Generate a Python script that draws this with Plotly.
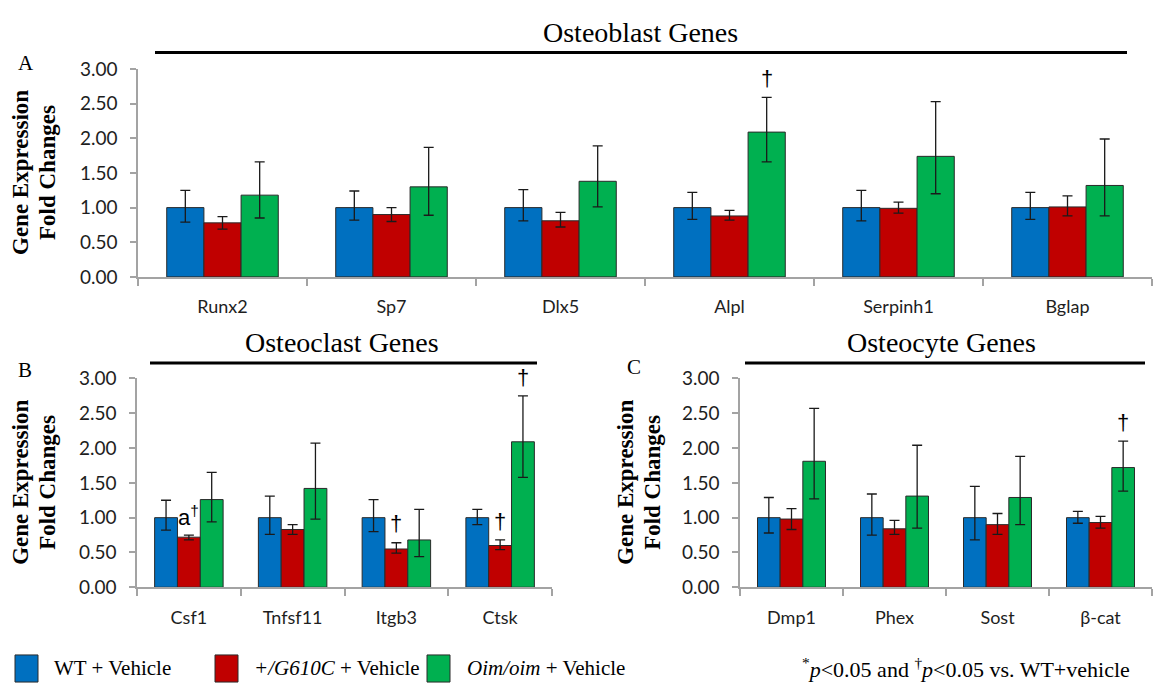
import plotly.graph_objects as go

W, H = 1154, 694

series_names = ["WT + Vehicle", "+/G610C + Vehicle", "Oim/oim + Vehicle"]
colors = ["#0070C0", "#C00000", "#00B050"]

# ---------------- Panel A : Osteoblast genes ----------------
cats_a = ["Runx2", "Sp7", "Dlx5", "Alpl", "Serpinh1", "Bglap"]
wt_a = [1.00, 1.00, 1.00, 1.00, 1.00, 1.00]
wt_a_hi = [1.25, 1.24, 1.26, 1.22, 1.25, 1.22]
wt_a_lo = [0.79, 0.82, 0.81, 0.83, 0.81, 0.83]
g610c_a = [0.78, 0.90, 0.81, 0.88, 0.99, 1.01]
g610c_a_hi = [0.87, 1.00, 0.93, 0.96, 1.08, 1.17]
g610c_a_lo = [0.69, 0.80, 0.72, 0.82, 0.92, 0.88]
oim_a = [1.18, 1.30, 1.38, 2.09, 1.74, 1.32]
oim_a_hi = [1.66, 1.87, 1.89, 2.59, 2.53, 1.99]
oim_a_lo = [0.85, 0.89, 1.01, 1.66, 1.20, 0.88]

# ---------------- Panel B : Osteoclast genes ----------------
cats_b = ["Csf1", "Tnfsf11", "Itgb3", "Ctsk"]
wt_b = [1.00, 1.00, 1.00, 1.00]
wt_b_hi = [1.25, 1.31, 1.26, 1.12]
wt_b_lo = [0.82, 0.76, 0.80, 0.90]
g610c_b = [0.72, 0.83, 0.55, 0.60]
g610c_b_hi = [0.75, 0.90, 0.64, 0.68]
g610c_b_lo = [0.68, 0.76, 0.49, 0.54]
oim_b = [1.26, 1.42, 0.68, 2.09]
oim_b_hi = [1.65, 2.07, 1.12, 2.75]
oim_b_lo = [0.94, 0.98, 0.44, 1.58]

# ---------------- Panel C : Osteocyte genes ----------------
cats_c = ["Dmp1", "Phex", "Sost", "β-cat"]
wt_c = [1.00, 1.00, 1.00, 1.00]
wt_c_hi = [1.29, 1.34, 1.45, 1.09]
wt_c_lo = [0.78, 0.75, 0.68, 0.92]
g610c_c = [0.98, 0.84, 0.90, 0.93]
g610c_c_hi = [1.13, 0.96, 1.06, 1.02]
g610c_c_lo = [0.83, 0.76, 0.76, 0.85]
oim_c = [1.81, 1.31, 1.29, 1.72]
oim_c_hi = [2.57, 2.04, 1.88, 2.10]
oim_c_lo = [1.27, 0.85, 0.90, 1.38]

# significance marks: (panel, category, series index, text)
sig_marks = [
    ("A", "Alpl", 2, "†"),
    ("B", "Csf1", 1, "a<sup>†</sup>"),
    ("B", "Itgb3", 1, "†"),
    ("B", "Ctsk", 1, "†"),
    ("B", "Ctsk", 2, "†"),
    ("C", "β-cat", 2, "†"),
]

y_ticks = [0.0, 0.5, 1.0, 1.5, 2.0, 2.5, 3.0]
Y_MAX = 3.0

panels = {
    "A": dict(cats=cats_a, title="Osteoblast Genes", ax="", data=[
        (wt_a, wt_a_hi, wt_a_lo), (g610c_a, g610c_a_hi, g610c_a_lo), (oim_a, oim_a_hi, oim_a_lo)],
        px_x=(138, 1152), px_y=(59, 274), line=(155, 1127, 42), title_xy=(640, 21),
        letter_xy=(26, 53), ytitle_x=(21, 48)),
    "B": dict(cats=cats_b, title="Osteoclast Genes", ax="2", data=[
        (wt_b, wt_b_hi, wt_b_lo), (g610c_b, g610c_b_hi, g610c_b_lo), (oim_b, oim_b_hi, oim_b_lo)],
        px_x=(137, 552), px_y=(379, 595), line=(150, 537, 363), title_xy=(342, 342),
        letter_xy=(25, 370), ytitle_x=(21, 48)),
    "C": dict(cats=cats_c, title="Osteocyte Genes", ax="3", data=[
        (wt_c, wt_c_hi, wt_c_lo), (g610c_c, g610c_c_hi, g610c_c_lo), (oim_c, oim_c_hi, oim_c_lo)],
        px_x=(740, 1152), px_y=(379, 595), line=(745, 1145, 363), title_xy=(941, 342),
        letter_xy=(634, 367), ytitle_x=(626, 653)),
}

BARGAP = 0.34
bar_w = (1 - BARGAP) / 3

def px(x):
    return x / W

def py(y):
    return 1 - y / H

fig = go.Figure()
layout = dict(
    width=W, height=H, margin=dict(l=0, r=0, t=0, b=0),
    paper_bgcolor="white", plot_bgcolor="white",
    barmode="group", bargap=BARGAP, bargroupgap=0, showlegend=False,
)
annotations = []
shapes = []
AXIS_GRAY = "#a3a3a3"
serif = "Liberation Serif"
sans = "Lato"

for key, p in panels.items():
    ax = p["ax"]
    for i, (vals, hi, lo) in enumerate(p["data"]):
        fig.add_trace(go.Bar(
            x=p["cats"], y=vals, name=series_names[i],
            marker=dict(color=colors[i], line=dict(color="#2a2a2a", width=1)),
            error_y=dict(type="data", symmetric=False,
                         array=[h - v for h, v in zip(hi, vals)],
                         arrayminus=[v - l for v, l in zip(vals, lo)],
                         color="#1a1a1a", thickness=1.3, width=5),
            xaxis="x" + ax, yaxis="y" + ax, offsetgroup=str(i),
        ))
    x0, x1 = p["px_x"]
    y0, y1 = p["px_y"]
    layout["xaxis" + ax] = dict(
        domain=[px(x0), px(x1)], anchor="y" + ax, type="category",
        showline=True, linecolor=AXIS_GRAY, linewidth=1.5,
        ticks="outside", tickson="boundaries", ticklen=7, tickcolor=AXIS_GRAY, tickwidth=1.5,
        showgrid=False, zeroline=False, ticklabelstandoff=13,
        tickfont=dict(family=sans, size=18, color="#1e1e1e"),
    )
    layout["yaxis" + ax] = dict(
        domain=[py(y1), py(y0)], anchor="x" + ax, range=[0, Y_MAX],
        showline=True, linecolor=AXIS_GRAY, linewidth=1.5,
        ticks="outside", ticklen=6, tickcolor=AXIS_GRAY, tickwidth=1.5,
        tickvals=y_ticks, ticktext=["%.2f" % t for t in y_ticks],
        showgrid=False, zeroline=False, ticklabelstandoff=9,
        tickfont=dict(family=sans, size=19, color="#1e1e1e"),
    )
    # title line + title text
    lx0, lx1, ly = p["line"]
    shapes.append(dict(type="line", xref="paper", yref="paper",
                       x0=px(lx0), x1=px(lx1), y0=py(ly), y1=py(ly),
                       line=dict(color="black", width=3)))
    tx, ty = p["title_xy"]
    annotations.append(dict(text=p["title"], xref="paper", yref="paper", x=px(tx), y=py(ty),
                            xanchor="center", yanchor="middle", showarrow=False,
                            font=dict(family=serif, size=28, color="black")))
    lx, lyy = p["letter_xy"]
    annotations.append(dict(text=key, xref="paper", yref="paper", x=px(lx), y=py(lyy),
                            xanchor="center", yanchor="middle", showarrow=False,
                            font=dict(family=serif, size=21, color="black")))
    for line_txt, lxp in zip(["Gene Expression", "Fold Changes"], p["ytitle_x"]):
        annotations.append(dict(text="<b>%s</b>" % line_txt, xref="paper", yref="paper",
                                x=px(lxp), y=py((y0 + y1) / 2), textangle=-90,
                                xanchor="center", yanchor="middle", showarrow=False,
                                font=dict(family=serif, size=23, color="black")))

# significance annotations (positioned from the data, in axis-domain units)
for key, cat, si, txt in sig_marks:
    p = panels[key]
    idx = p["cats"].index(cat)
    vals, hi, lo = p["data"][si]
    xpos = idx + (si - 1) * bar_w
    annotations.append(dict(text=txt, xref="x" + p["ax"], yref="y" + p["ax"] + " domain",
                            x=xpos, y=(hi[idx] + 0.27) / Y_MAX, xanchor="center", yanchor="middle",
                            showarrow=False, font=dict(family="Liberation Sans", size=22, color="black")))

# custom legend at the bottom
legend_y = 679
legend_items = [
    (15, 38, 52, "WT + Vehicle"),
    (215, 238, 252, "<i>+/G610C</i> + Vehicle"),
    (427, 450, 465, "<i>Oim/oim</i> + Vehicle"),
]
for i, (bx0, bx1, tx, txt) in enumerate(legend_items):
    shapes.append(dict(type="rect", xref="paper", yref="paper",
                       x0=px(bx0), x1=px(bx1), y0=py(legend_y + 14), y1=py(legend_y - 14),
                       fillcolor=colors[i], line=dict(color="#2a2a2a", width=1)))
    annotations.append(dict(text=txt, xref="paper", yref="paper", x=px(tx), y=py(legend_y),
                            xanchor="left", yanchor="middle", showarrow=False,
                            font=dict(family=serif, size=21, color="black")))
annotations.append(dict(text="<sup>*</sup><i>p</i>&lt;0.05 and <sup>†</sup><i>p</i>&lt;0.05 vs. WT+vehicle",
                        xref="paper", yref="paper", x=px(1132), y=py(legend_y),
                        xanchor="right", yanchor="middle", showarrow=False,
                        font=dict(family=serif, size=22, color="black")))

layout["annotations"] = annotations
layout["shapes"] = shapes
fig.update_layout(**layout)
fig.write_html("out.html")
